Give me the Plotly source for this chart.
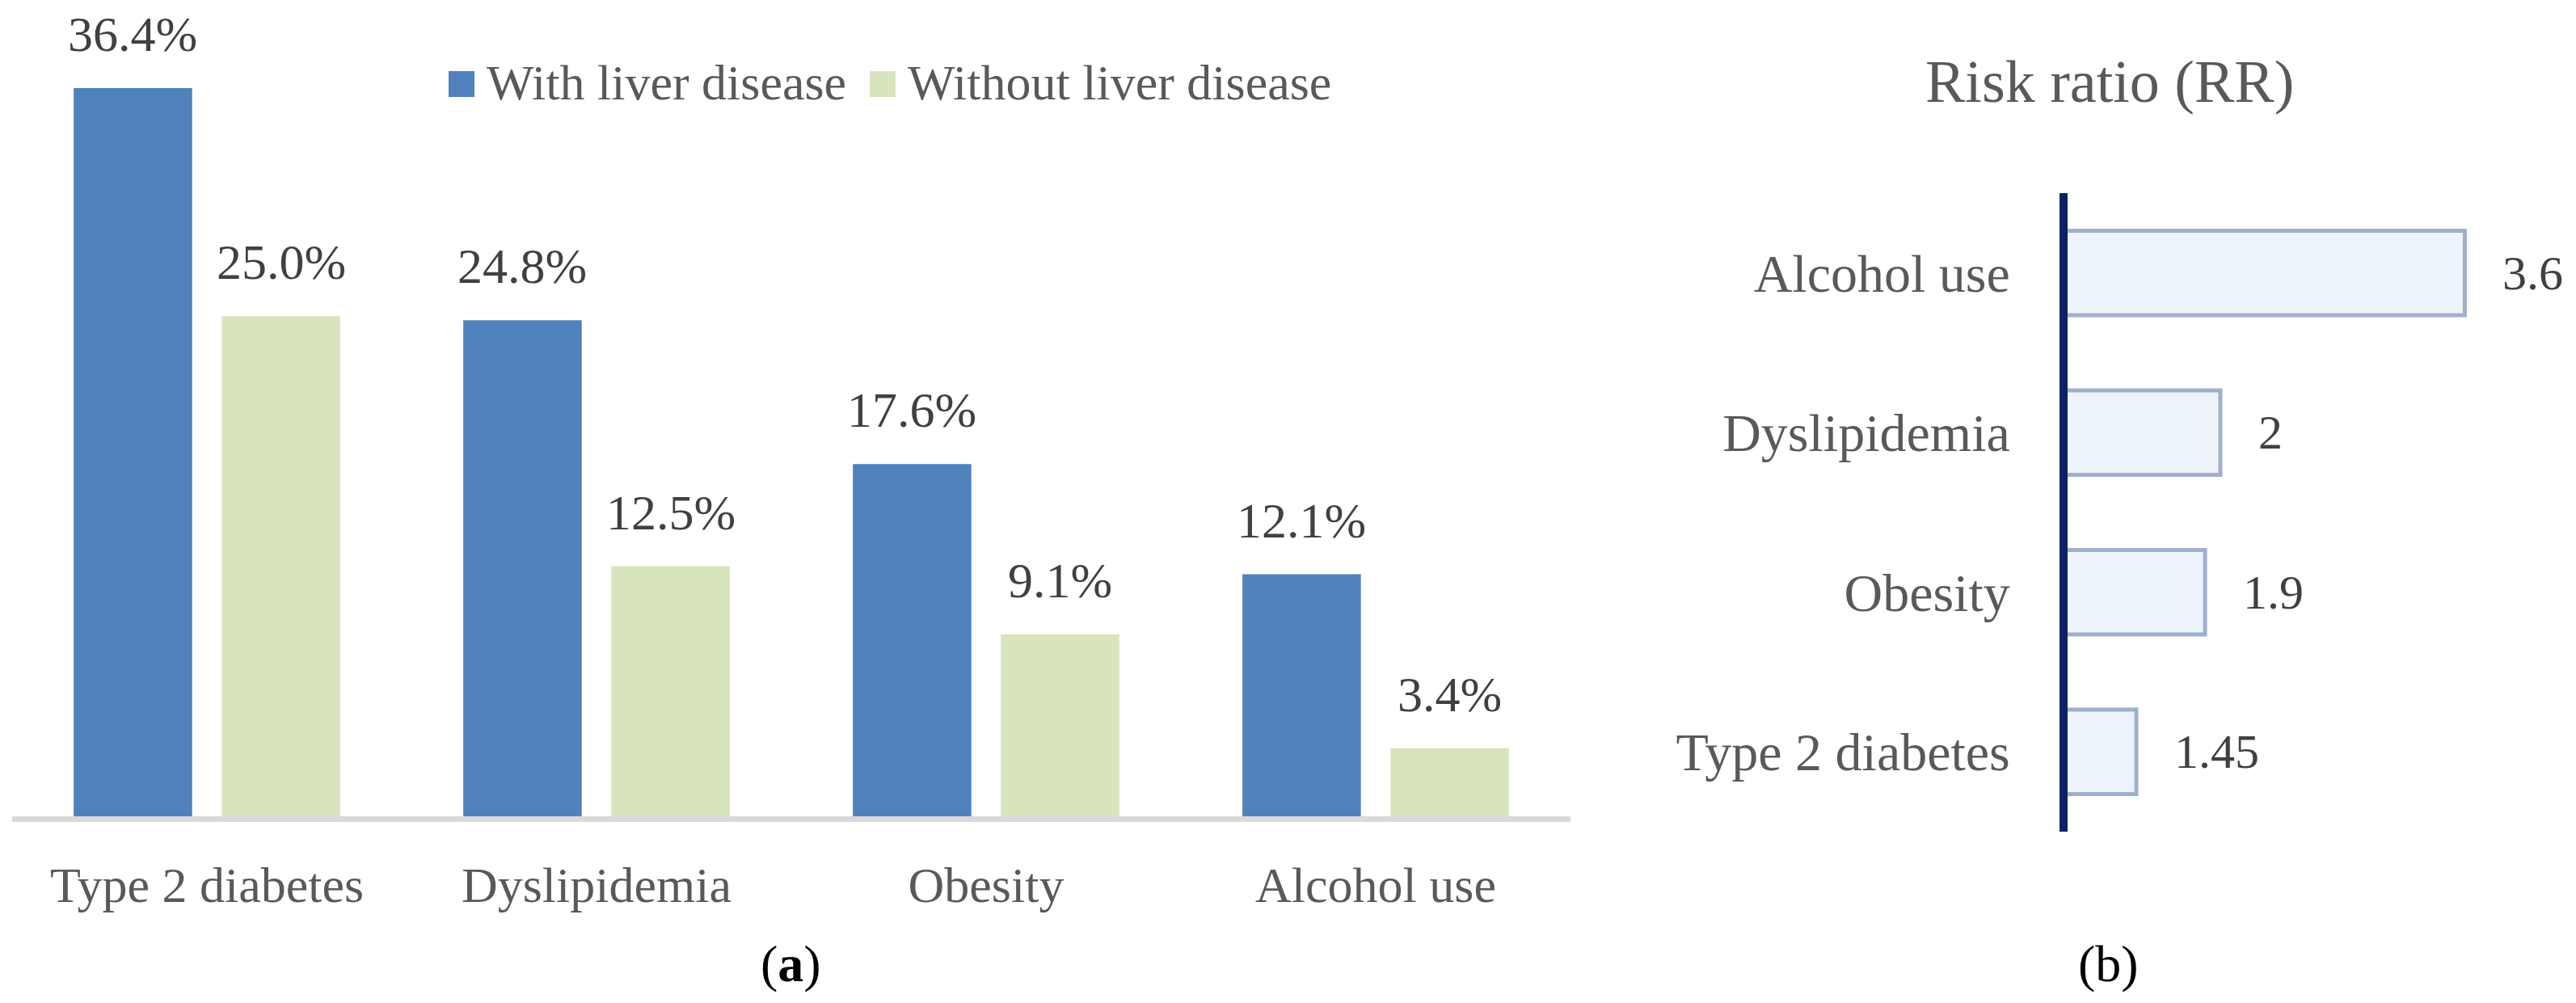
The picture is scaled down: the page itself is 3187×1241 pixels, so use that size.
import plotly.graph_objects as go

# ---------------- data ----------------
categories = ["Type 2 diabetes", "Dyslipidemia", "Obesity", "Alcohol use"]
with_liver = [36.4, 24.8, 17.6, 12.1]
without_liver = [25.0, 12.5, 9.1, 3.4]
series_names = ["With liver disease", "Without liver disease"]

rr_categories = ["Type 2 diabetes", "Obesity", "Dyslipidemia", "Alcohol use"]
rr_values = [1.45, 1.9, 2, 3.6]
rr_labels = ["1.45", "1.9", "2", "3.6"]

# ---------------- style ----------------
W, H = 3187, 1241
FONT = "Liberation Serif"
BLUE = "#4f81bd"
GREEN = "#d7e4bd"
GREY_TXT = "#595959"
DARK_TXT = "#404040"


def fx(px):
    return px / W


def fy(py):
    return 1 - py / H


fig = go.Figure()

fig.add_trace(go.Bar(x=categories, y=with_liver, name=series_names[0],
                     marker=dict(color=BLUE, line=dict(width=0)),
                     xaxis="x", yaxis="y", showlegend=False, hoverinfo="skip"))
fig.add_trace(go.Bar(x=categories, y=without_liver, name=series_names[1],
                     marker=dict(color=GREEN, line=dict(width=0)),
                     xaxis="x", yaxis="y", showlegend=False, hoverinfo="skip"))

fig.add_trace(go.Bar(x=rr_values, y=rr_categories, orientation="h", width=0.53,
                     marker=dict(color="#edf4fc", line=dict(color="#a0b0cc", width=5)),
                     xaxis="x2", yaxis="y2", showlegend=False, hoverinfo="skip"))

annotations = []
# percentage labels above grouped bars
off = 0.19
for i, c in enumerate(categories):
    for vals, sgn in ((with_liver, -1), (without_liver, 1)):
        annotations.append(dict(x=i + sgn * off, y=vals[i], xref="x", yref="y",
                                text=f"{vals[i]:.1f}%", showarrow=False,
                                xanchor="center", yanchor="middle", yshift=67,
                                font=dict(family=FONT, size=62, color=DARK_TXT)))

# risk ratio value labels
for v, c, t in zip(rr_values, rr_categories, rr_labels):
    annotations.append(dict(x=v, y=c, xref="x2", yref="y2", text=t, showarrow=False,
                            xanchor="left", yanchor="middle", xshift=45,
                            font=dict(family=FONT, size=60, color=DARK_TXT)))

# manual legend
shapes = []
legend_items = [(series_names[0], BLUE, 555), (series_names[1], GREEN, 1076)]
for name, col, x0 in legend_items:
    shapes.append(dict(type="rect", xref="paper", yref="paper",
                       x0=fx(x0), x1=fx(x0 + 32), y0=fy(120), y1=fy(88),
                       fillcolor=col, line=dict(width=0)))
    annotations.append(dict(x=fx(x0 + 45), y=fy(102), xref="paper", yref="paper",
                            text=name, showarrow=False, xanchor="left", yanchor="middle",
                            font=dict(family=FONT, size=62, color=GREY_TXT)))

# titles / panel labels
annotations.append(dict(x=fx(2610), y=fy(101), xref="paper", yref="paper",
                        text="Risk ratio (RR)", showarrow=False,
                        xanchor="center", yanchor="middle",
                        font=dict(family=FONT, size=74, color=GREY_TXT)))
annotations.append(dict(x=fx(978), y=fy(1192), xref="paper", yref="paper",
                        text="(<b>a</b>)", showarrow=False,
                        xanchor="center", yanchor="middle",
                        font=dict(family=FONT, size=64, color="#000000")))
annotations.append(dict(x=fx(2608), y=fy(1192), xref="paper", yref="paper",
                        text="(b)", showarrow=False,
                        xanchor="center", yanchor="middle",
                        font=dict(family=FONT, size=64, color="#000000")))

fig.update_layout(
    width=W, height=H, autosize=False,
    margin=dict(l=0, r=0, t=0, b=0),
    paper_bgcolor="white", plot_bgcolor="white",
    barmode="group", bargap=0.24, bargroupgap=0.2,
    font=dict(family=FONT, color=GREY_TXT),
    xaxis=dict(domain=[fx(15), fx(1943)], type="category",
               showline=True, linecolor="#d9d9d9", linewidth=7,
               ticks="", showgrid=False, zeroline=False,
               tickfont=dict(family=FONT, size=62, color=GREY_TXT),
               ticklabelstandoff=25, anchor="y"),
    yaxis=dict(domain=[fy(1010), fy(60)], range=[0, 38.38], visible=False,
               anchor="x"),
    xaxis2=dict(domain=[fx(2558), 1.0], range=[1, 4.328], visible=False,
                anchor="y2"),
    yaxis2=dict(domain=[fy(1029), fy(239)], type="category", anchor="x2",
                showline=True, linecolor="#0b2161", linewidth=10,
                ticks="", showgrid=False, zeroline=False,
                tickfont=dict(family=FONT, size=66, color=GREY_TXT),
                ticklabelstandoff=48),
    shapes=shapes,
    annotations=annotations,
)

fig.write_html("out.html",
               config={"displayModeBar": False},
               post_script="document.body.style.margin='0';"
                           "document.body.style.overflow='hidden';")
